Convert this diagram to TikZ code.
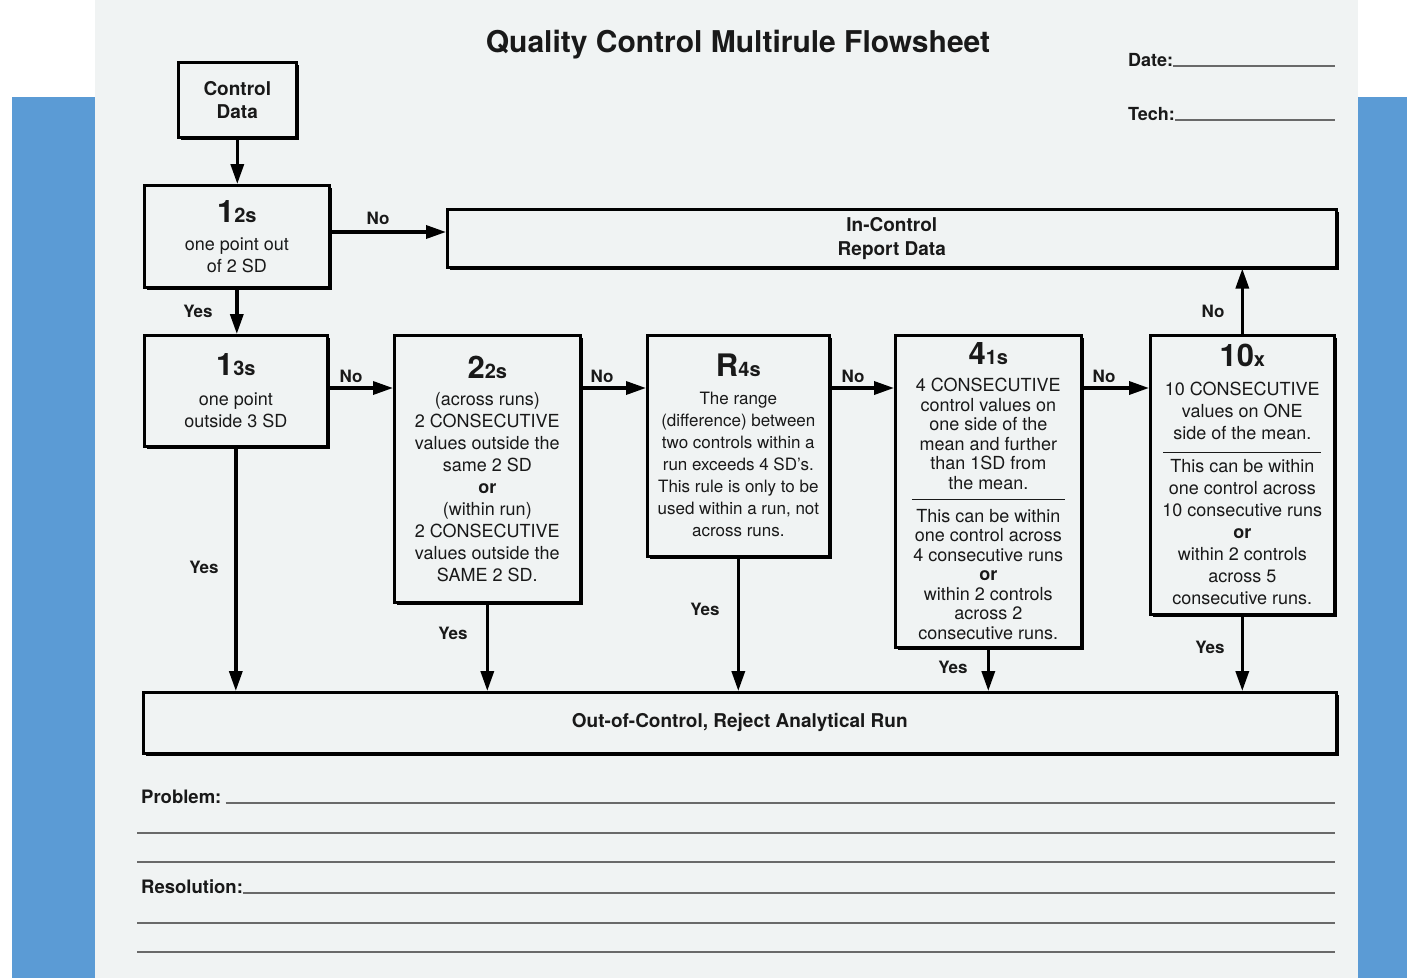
\documentclass[tikz,border=0pt]{standalone}
\usepackage{fontspec}
\setmainfont{TeX Gyre Heros}
\usetikzlibrary{arrows.meta,shadows}
\definecolor{paper}{RGB}{240,243,243}
\definecolor{ink}{RGB}{25,25,25}
\definecolor{sideblue}{RGB}{91,155,213}
\definecolor{rulegrey}{RGB}{105,105,105}
\newcommand\rtitle[2]{{\fontsize{31}{31}\selectfont\bfseries #1}{\fontsize{20}{20}\selectfont\bfseries #2}}
\begin{document}
\begin{tikzpicture}[x=1pt,y=-1pt,
  box/.style={draw=black, line width=2.6pt, fill=paper, inner sep=0pt, align=center,
    text=ink, anchor=north west, font=\fontsize{18}{22}\selectfont,
    drop shadow={shadow xshift=3pt, shadow yshift=-3pt, fill=black, opacity=1}},
  arr/.style={line width=3.4pt, -{Triangle[length=20pt,width=13pt]}},
  lab/.style={font=\bfseries\fontsize{17}{17}\selectfont, text=ink, inner sep=0pt},
  formtext/.style={font=\bfseries\fontsize{18}{18}\selectfont, text=ink, inner sep=0pt, anchor=base west},
  fill line/.style={draw=rulegrey, line width=1.6pt}
]
\useasboundingbox (0,0) rectangle (1407,978);
% background
\fill[white] (0,0) rectangle (1407,978);
\fill[sideblue] (12,97) rectangle (95,978);
\fill[sideblue] (1358,97) rectangle (1407,978);
\fill[paper] (95,0) rectangle (1358,978);

% title and header fields
\node[font=\bfseries\fontsize{30}{30}\selectfont, text=ink] (title) at (738,45) {Quality Control Multirule Flowsheet};
\coordinate (R) at (1335,0);
\node[formtext] (date) at (1128,66) {Date:};
\node[formtext] (tech) at (1128,120) {Tech:};
\draw[fill line] (date.base east) -- (date.base east -| R);
\draw[fill line] (tech.base east) -- (tech.base east -| R);

% boxes
\node[box, font=\bfseries\fontsize{19}{23}\selectfont, minimum width=118, minimum height=75] (cd) at (177,61) {Control\\Data};
\node[box, minimum width=185, minimum height=102] (b12) at (143,184) {\rtitle{1}{2s}\\[6pt]one point out\\of 2 SD};
\node[box, font=\bfseries\fontsize{19}{24}\selectfont, minimum width=889, minimum height=58] (inctl) at (446,208) {In-Control\\Report Data};
\node[box, minimum width=183, minimum height=111] (b13) at (143,334) {\rtitle{1}{3s}\\[8pt]one point\\outside 3 SD};
\node[box, minimum width=186, minimum height=267] (b22) at (393,334) {\rtitle{2}{2s}\\[5pt](across runs)\\2 CONSECUTIVE\\values outside the\\same 2 SD\\\textbf{or}\\(within run)\\2 CONSECUTIVE\\values outside the\\SAME 2 SD.};
\node[box, font=\fontsize{17}{22}\selectfont, minimum width=182, minimum height=221] (r4) at (646,334) {\rtitle{R}{4s}\\[6pt]The range\\(difference) between\\two controls within a\\run exceeds 4 SD's.\\This rule is only to be\\used within a run, not\\across runs.};
\node[box, font=\fontsize{18}{19.5}\selectfont, minimum width=186, minimum height=312] (b41) at (894,334) {\rtitle{4}{1s}\\[7.5pt]4 CONSECUTIVE\\control values on\\one side of the\\mean and further\\than 1SD from\\the mean.\\[-8.5pt]\rule{153pt}{1pt}\\[2.5pt]This can be within\\one control across\\4 consecutive runs\\\textbf{or}\\within 2 controls\\across 2\\consecutive runs.};
\node[box, minimum width=184, minimum height=279] (b10) at (1149,334) {\rtitle{10}{x}\\[7pt]10 CONSECUTIVE\\values on ONE\\side of the mean.\\[-9pt]\rule{158pt}{1pt}\\[-2pt]This can be within\\one control across\\10 consecutive runs\\\textbf{or}\\within 2 controls\\across 5\\consecutive runs.};
\node[box, font=\bfseries\fontsize{19}{19}\selectfont, minimum width=1193, minimum height=61] (out) at (142,691) {Out-of-Control, Reject Analytical Run};

% connectors
\draw[arr] (cd.south) -- (cd.south |- b12.north);
\draw[arr] (b12.east |- 0,232) -- (inctl.west |- 0,232);
\draw[arr] (b12.south) -- (b12.south |- b13.north);
\draw[arr] (b13.east |- 0,388) -- (b22.west |- 0,388);
\draw[arr] (b22.east |- 0,388) -- (r4.west |- 0,388);
\draw[arr] (r4.east |- 0,388) -- (b41.west |- 0,388);
\draw[arr] (b41.east |- 0,388) -- (b10.west |- 0,388);
\draw[arr] (b10.north) -- (b10.north |- inctl.south);
\draw[arr] (b13.south) -- (b13.south |- out.north);
\draw[arr] (b22.south) -- (b22.south |- out.north);
\draw[arr] (r4.south) -- (r4.south |- out.north);
\draw[arr] (b41.south) -- (b41.south |- out.north);
\draw[arr] (b10.south) -- (b10.south |- out.north);

% labels
\node[lab] (no1) at (378,218) {No};
\node[lab] (no2) at (351,376) {No};
\node[lab] (no3) at (602,376) {No};
\node[lab] (no4) at (853,376) {No};
\node[lab] (no5) at (1104,376) {No};
\node[lab] (no6) at (1213,311) {No};
\node[lab] (yes1) at (198,311) {Yes};
\node[lab] (yes2) at (204,567) {Yes};
\node[lab] (yes3) at (453,633) {Yes};
\node[lab] (yes4) at (705,609) {Yes};
\node[lab] (yes5) at (953,667) {Yes};
\node[lab] (yes6) at (1210,647) {Yes};

% problem / resolution fields
\node[formtext, font=\bfseries\fontsize{18.5}{18.5}\selectfont] (prob) at (141,803) {Problem:};
\node[formtext, font=\bfseries\fontsize{18.5}{18.5}\selectfont] (reso) at (141,893) {Resolution:};
\draw[fill line] ([xshift=4pt]prob.base east) -- (prob.base east -| R);
\draw[fill line] (reso.base east) -- (reso.base east -| R);
\coordinate (p1) at (137,833);
\coordinate (p2) at (137,862);
\coordinate (r1) at (137,923);
\coordinate (r2) at (137,952);
\draw[fill line] (p1) -- (p1 -| R);
\draw[fill line] (p2) -- (p2 -| R);
\draw[fill line] (r1) -- (r1 -| R);
\draw[fill line] (r2) -- (r2 -| R);
\end{tikzpicture}
\end{document}
